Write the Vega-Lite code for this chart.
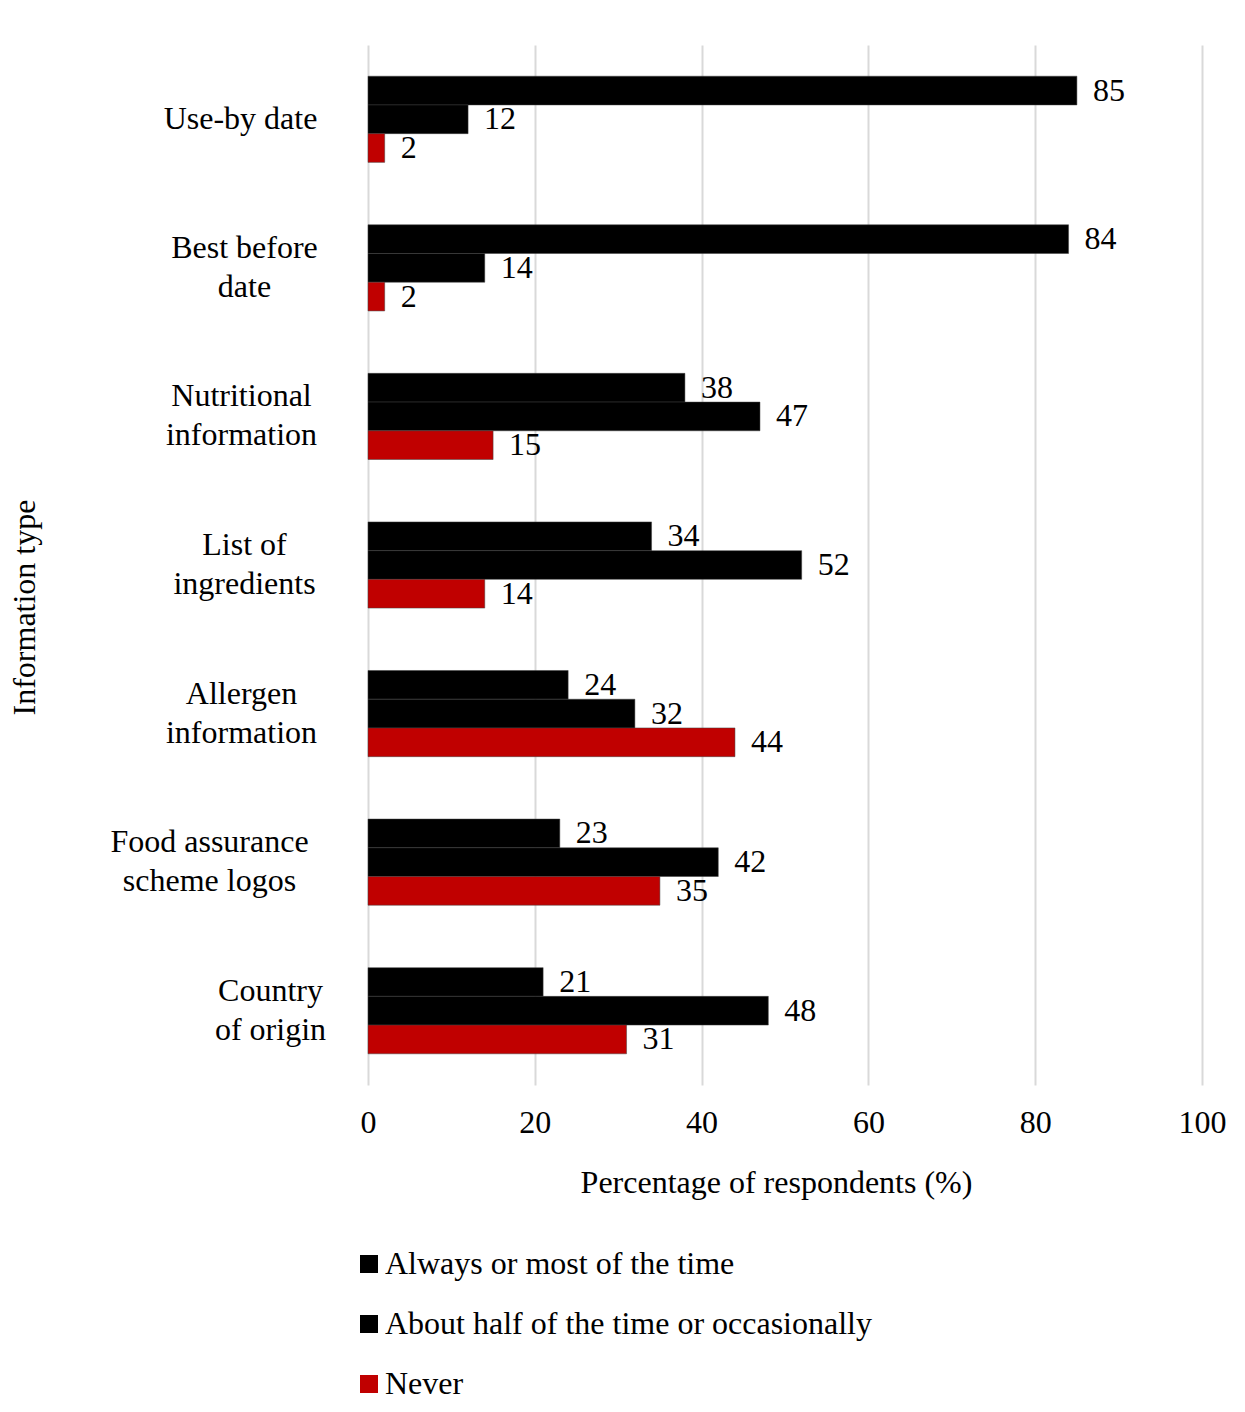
{
  "$schema": "https://vega.github.io/schema/vega-lite/v6.json",
  "width": 834,
  "height": 1040,
  "padding": {"left": 8, "top": 45, "right": 20, "bottom": 10},
  "background": "white",
  "config": {
    "font": "Liberation Serif",
    "view": {"stroke": null}
  },
  "data": {
    "values": [
      {"type": "Use-by date", "freq": "Always or most of the time", "pct": 85},
      {"type": "Use-by date", "freq": "About half of the time or occasionally", "pct": 12},
      {"type": "Use-by date", "freq": "Never", "pct": 2},
      {"type": "Best before date", "freq": "Always or most of the time", "pct": 84},
      {"type": "Best before date", "freq": "About half of the time or occasionally", "pct": 14},
      {"type": "Best before date", "freq": "Never", "pct": 2},
      {"type": "Nutritional information", "freq": "Always or most of the time", "pct": 38},
      {"type": "Nutritional information", "freq": "About half of the time or occasionally", "pct": 47},
      {"type": "Nutritional information", "freq": "Never", "pct": 15},
      {"type": "List of ingredients", "freq": "Always or most of the time", "pct": 34},
      {"type": "List of ingredients", "freq": "About half of the time or occasionally", "pct": 52},
      {"type": "List of ingredients", "freq": "Never", "pct": 14},
      {"type": "Allergen information", "freq": "Always or most of the time", "pct": 24},
      {"type": "Allergen information", "freq": "About half of the time or occasionally", "pct": 32},
      {"type": "Allergen information", "freq": "Never", "pct": 44},
      {"type": "Food assurance scheme logos", "freq": "Always or most of the time", "pct": 23},
      {"type": "Food assurance scheme logos", "freq": "About half of the time or occasionally", "pct": 42},
      {"type": "Food assurance scheme logos", "freq": "Never", "pct": 35},
      {"type": "Country of origin", "freq": "Always or most of the time", "pct": 21},
      {"type": "Country of origin", "freq": "About half of the time or occasionally", "pct": 48},
      {"type": "Country of origin", "freq": "Never", "pct": 31}
    ]
  },
  "encoding": {
    "y": {
      "field": "type",
      "type": "nominal",
      "sort": null,
      "scale": {"paddingInner": 0.42, "paddingOuter": 0.21},
      "axis": {
        "title": "Information type",
        "titleFontSize": 32,
        "titleFontWeight": "normal",
        "titleColor": "black",
        "titleX": -344,
        "titleY": 562,
        "titleBaseline": "middle",
        "domain": false,
        "ticks": false,
        "labelFontSize": 32,
        "labelColor": "black",
        "labelAlign": "center",
        "labelBaseline": "middle",
        "labelPadding": {
          "condition": [
            {"test": "datum.value == 'Use-by date'", "value": 128},
            {"test": "datum.value == 'Best before date'", "value": 124},
            {"test": "datum.value == 'List of ingredients'", "value": 124},
            {"test": "datum.value == 'Food assurance scheme logos'", "value": 159},
            {"test": "datum.value == 'Country of origin'", "value": 98}
          ],
          "value": 127
        },
        "labelOffset": {
          "condition": {"test": "datum.value == 'Use-by date'", "value": 0},
          "value": -20
        },
        "labelLineHeight": 39,
        "labelLimit": 400,
        "labelExpr": "datum.value == 'Best before date' ? ['Best before', 'date'] : datum.value == 'Nutritional information' ? ['Nutritional', 'information'] : datum.value == 'List of ingredients' ? ['List of', 'ingredients'] : datum.value == 'Allergen information' ? ['Allergen', 'information'] : datum.value == 'Food assurance scheme logos' ? ['Food assurance', 'scheme logos'] : datum.value == 'Country of origin' ? ['Country', 'of origin'] : datum.value"
      }
    },
    "yOffset": {
      "field": "freq",
      "type": "nominal",
      "sort": ["Always or most of the time", "About half of the time or occasionally", "Never"],
      "scale": {"paddingInner": 0, "paddingOuter": 0}
    },
    "x": {
      "field": "pct",
      "type": "quantitative",
      "scale": {"domain": [0, 100]},
      "axis": {
        "title": "Percentage of respondents (%)",
        "titleFontSize": 32,
        "titleFontWeight": "normal",
        "titleColor": "black",
        "titlePadding": 29,
        "titleX": 408,
        "titleAlign": "center",
        "values": [0, 20, 40, 60, 80, 100],
        "domain": false,
        "ticks": false,
        "labelFlush": false,
        "labelFontSize": 32,
        "labelColor": "black",
        "labelPadding": 22,
        "grid": true,
        "gridColor": "#d9d9d9",
        "gridWidth": 2
      }
    }
  },
  "layer": [
    {
      "mark": {"type": "bar", "stroke": "#404040", "strokeWidth": 0.5},
      "encoding": {
        "color": {
          "field": "freq",
          "type": "nominal",
          "sort": ["Always or most of the time", "About half of the time or occasionally", "Never"],
          "scale": {
            "domain": ["Always or most of the time", "About half of the time or occasionally", "Never"],
            "range": ["#000000", "#000000", "#c00000"]
          },
          "legend": {
            "title": null,
            "orient": "none",
            "legendX": -15,
            "legendY": 1203,
            "direction": "vertical",
            "symbolType": "square",
            "symbolSize": 324,
            "symbolStrokeWidth": 0,
            "labelFontSize": 32,
            "labelColor": "black",
            "labelOffset": 0,
            "labelLimit": 700,
            "rowPadding": 28
          }
        }
      }
    },
    {
      "mark": {"type": "text", "align": "left", "baseline": "middle", "dx": 16, "fontSize": 32, "color": "black"},
      "encoding": {
        "text": {"field": "pct", "type": "quantitative"}
      }
    }
  ]
}
